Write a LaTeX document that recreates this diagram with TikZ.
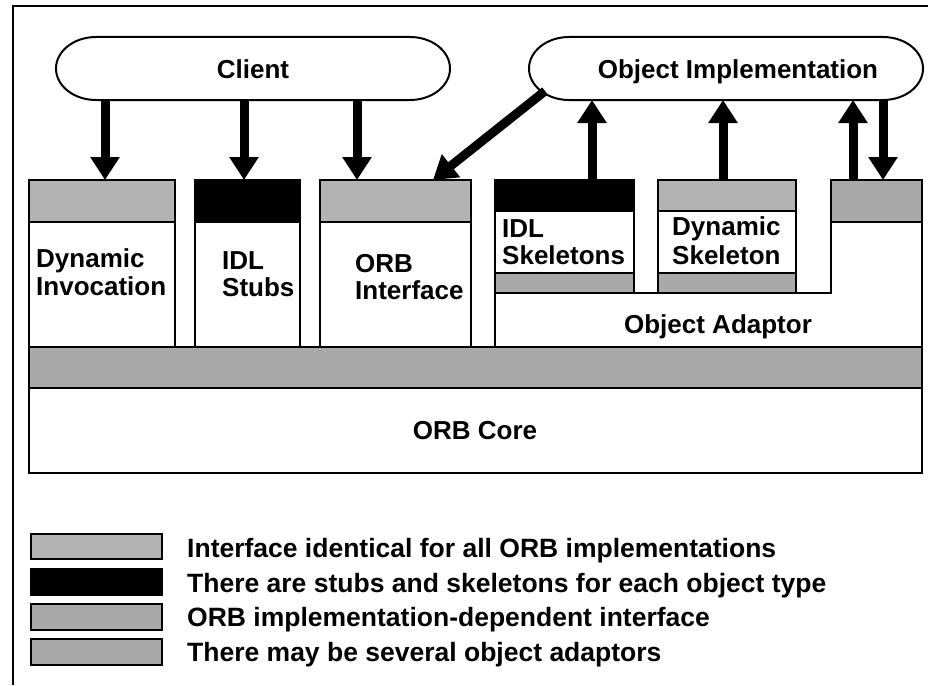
\documentclass[tikz,border=0pt]{standalone}
\usepackage{fontspec}
\setmainfont{Liberation Sans}
\usetikzlibrary{arrows.meta}
\definecolor{lgray}{RGB}{179,179,179}
\definecolor{dgray}{RGB}{169,169,169}
\begin{document}
\begin{tikzpicture}[x=1pt,y=-1pt,
  blk/.style={draw, line width=2pt, outer sep=0pt, inner sep=0pt, anchor=north west},
  lbl/.style={font=\fontsize{26}{28}\selectfont\bfseries, inner sep=0pt, anchor=base west},
  clbl/.style={font=\fontsize{26}{28}\selectfont\bfseries, inner sep=0pt, anchor=base},
  bigarr/.style={line width=9pt, -{Triangle[width=28pt,length=23pt]}},
  leg/.style={font=\fontsize{26.5}{28}\selectfont\bfseries, inner sep=0pt, anchor=base west},
  capsule/.style={line width=2pt, fill=white},
]
\useasboundingbox (0,0) rectangle (928,685);
% frame
\draw[line width=1.5pt] (13,685) -- (13,6) -- (928,6);

% Client and Object Implementation capsules
\draw[capsule] (96,37) -- (410,37) arc[start angle=-90,end angle=90,x radius=40,y radius=31.5]
  -- (96,100) arc[start angle=90,end angle=270,x radius=40,y radius=31.5] -- cycle;
\node[clbl] (client) at (253,78) {Client};
\draw[capsule] (569,37) -- (883,37) arc[start angle=-90,end angle=90,x radius=40,y radius=31.5]
  -- (569,100) arc[start angle=90,end angle=270,x radius=40,y radius=31.5] -- cycle;
\node[clbl] (objimpl) at (738,78) {Object Implementation};
\coordinate (cs) at (0,100);
\coordinate (oisw) at (545,91);

% Object adaptor outline
\draw[line width=2pt, fill=white] (495,293) -- (831,293) -- (831,222) -- (922,222)
  -- (922,347) -- (495,347) -- cycle;
\node[clbl] (oa) at (718,333) {Object Adaptor};

% Dynamic invocation
\node[blk, fill=lgray, minimum width=146pt, minimum height=42pt] (dibar) at (29,180) {};
\node[blk, fill=white, minimum width=146pt, minimum height=125pt] (dibox) at (29,222) {};
\node[lbl] (di1) at (36,267) {Dynamic};
\node[lbl] (di2) at (36,295) {Invocation};

% IDL stubs
\node[blk, fill=black, minimum width=105pt, minimum height=42pt] (stbar) at (195,180) {};
\node[blk, fill=white, minimum width=105pt, minimum height=125pt] (stbox) at (195,222) {};
\node[lbl] (st1) at (222,269) {IDL};
\node[lbl] (st2) at (222,296) {Stubs};

% ORB interface
\node[blk, fill=lgray, minimum width=151pt, minimum height=42pt] (oibar) at (320,180) {};
\node[blk, fill=white, minimum width=151pt, minimum height=125pt] (oibox) at (320,222) {};
\node[lbl] (oi1) at (355,272) {ORB};
\node[lbl] (oi2) at (355,299) {Interface};

% IDL skeletons
\node[blk, fill=black, minimum width=139pt, minimum height=31pt] (skbar) at (495,180) {};
\node[blk, fill=white, minimum width=139pt, minimum height=62pt] (skbox) at (495,211) {};
\node[blk, fill=dgray, minimum width=139pt, minimum height=20pt] (skbot) at (495,273) {};
\node[lbl] (sk1) at (502,237) {IDL};
\node[lbl] (sk2) at (502,264) {Skeletons};

% Dynamic skeleton
\node[blk, fill=lgray, minimum width=138pt, minimum height=31pt] (dsbar) at (658,180) {};
\node[blk, fill=white, minimum width=138pt, minimum height=62pt] (dsbox) at (658,211) {};
\node[blk, fill=dgray, minimum width=138pt, minimum height=20pt] (dsbot) at (658,273) {};
\node[lbl] (ds1) at (672,235) {Dynamic};
\node[lbl] (ds2) at (672,264) {Skeleton};

% object adaptor top interface
\node[blk, fill=dgray, minimum width=91pt, minimum height=42pt] (oabar) at (831,180) {};

% ORB core
\node[blk, fill=dgray, minimum width=893pt, minimum height=41pt] (corebar) at (29,347) {};
\node[blk, fill=white, minimum width=893pt, minimum height=85pt] (core) at (29,388) {};
\node[clbl] (corelbl) at (475,439) {ORB Core};

% arrow positions
\coordinate (a1) at (105,0);
\coordinate (a2) at (244,0);
\coordinate (a3) at (357,0);
\coordinate (a4) at (592,0);
\coordinate (a5) at (723,0);
\coordinate (a6) at (853,0);
\coordinate (a7) at (883,0);
\coordinate (a8) at (433,0);

\draw[bigarr] (a1 |- cs) -- (a1 |- dibar.north);
\draw[bigarr] (a2 |- cs) -- (a2 |- stbar.north);
\draw[bigarr] (a3 |- cs) -- (a3 |- oibar.north);
\draw[bigarr] (a4 |- skbar.north) -- (a4 |- cs);
\draw[bigarr] (a5 |- dsbar.north) -- (a5 |- cs);
\draw[bigarr] (a6 |- oabar.north) -- (a6 |- cs);
\draw[bigarr] (a7 |- cs) -- (a7 |- oabar.north);
\draw[bigarr] (oisw) -- (a8 |- oibar.north);

% legend
\node[blk, fill=lgray, minimum width=131pt, minimum height=25pt] (k1) at (31,534) {};
\node[blk, fill=black, minimum width=131pt, minimum height=26pt] (k2) at (31,569) {};
\node[blk, fill=dgray, minimum width=131pt, minimum height=26pt] (k3) at (31,604) {};
\node[blk, fill=dgray, minimum width=131pt, minimum height=26pt] (k4) at (31,639) {};
\node[leg] (t1) at (187,557) {Interface identical for all ORB implementations};
\node[leg] (t2) at (187,592) {There are stubs and skeletons for each object type};
\node[leg] (t3) at (187,626) {ORB implementation-dependent interface};
\node[leg] (t4) at (187,661) {There may be several object adaptors};
\end{tikzpicture}
\end{document}
